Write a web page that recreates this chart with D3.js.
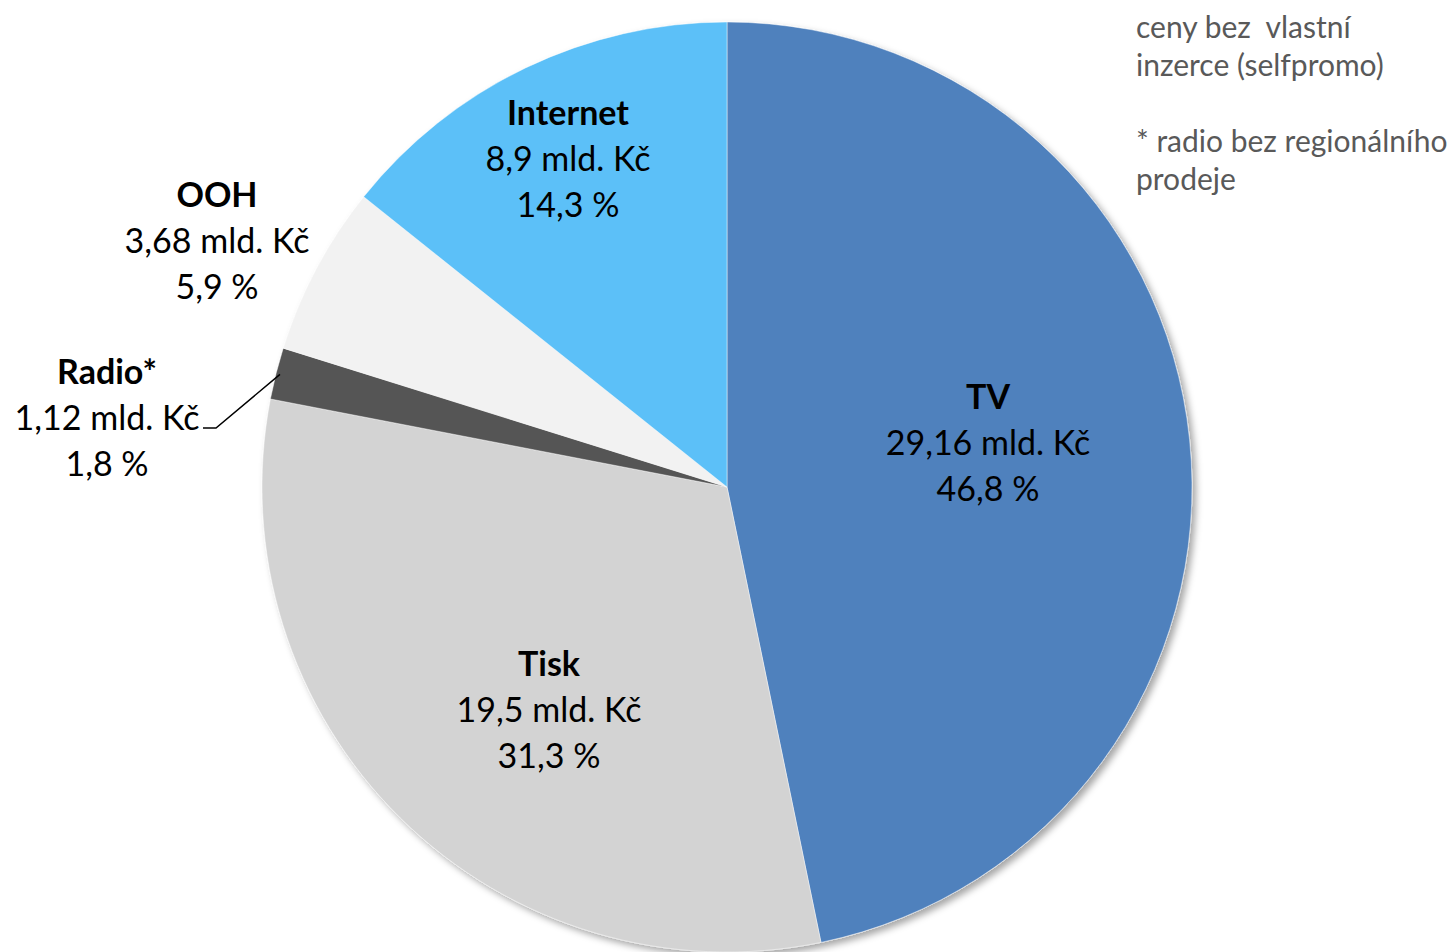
<!DOCTYPE html>
<html>
<head>
<meta charset="utf-8">
<script src="https://cdn.jsdelivr.net/npm/d3@7"></script>
<style>
  body { margin: 0; background: #fff; }
  svg { display: block; }
</style>
</head>
<body>
<script>
(function() {

	var categories = ['TV', 'Tisk', 'Radio*', 'OOH', 'Internet'];
	var values = [29.16, 19.5, 1.12, 3.68, 8.9];
	var valueLabels = ['29,16 mld. Kč', '19,5 mld. Kč', '1,12 mld. Kč', '3,68 mld. Kč', '8,9 mld. Kč'];
	var percentLabels = ['46,8 %', '31,3 %', '1,8 %', '5,9 %', '14,3 %'];
	var noteLines = ['ceny bez  vlastní', 'inzerce (selfpromo)', '', '* radio bez regionálního', 'prodeje'];

	var width = 1455;
	var height = 952;
	var cx = 727;
	var cy = 487;
	var radius = 465;
	var lineGap = 46;

	var colors = ['#4f81bd', '#d3d3d3', '#545454', '#f2f2f2', '#5bc0f8'];

	// label anchors (middle line), relative to pie centre
	var labelPos = {
		'TV': [261, -44],
		'Tisk': [-178, 223],
		'Radio*': [-620, -69],
		'OOH': [-510, -246],
		'Internet': [-159, -328]
	};

	var svg = d3.select('body')
		.append('svg')
			.attr('width', width)
			.attr('height', height)
			.style('font-family', 'Lato, "Open Sans", sans-serif');

	var defs = svg.append('defs');
	var shadow = defs.append('filter')
		.attr('id', 'shadow')
		.attr('x', '-10%')
		.attr('y', '-10%')
		.attr('width', '120%')
		.attr('height', '120%');
	shadow.append('feDropShadow')
		.attr('dx', 4)
		.attr('dy', 4)
		.attr('stdDeviation', 3.5)
		.attr('flood-color', '#000')
		.attr('flood-opacity', 0.35);

	var pie = d3.pie()
		.sort(null)
		.value(function(d) { return d; });

	var arcs = pie(values);

	var arc = d3.arc()
		.innerRadius(0)
		.outerRadius(radius);

	var chart = svg.append('g')
		.attr('transform', 'translate(' + cx + ',' + cy + ')');

	chart.append('g')
		.attr('filter', 'url(#shadow)')
		.selectAll('path')
		.data(arcs)
		.enter()
		.append('path')
			.attr('d', arc)
			.style('fill', function(d, i) { return colors[i]; })
			.style('stroke', 'rgba(255,255,255,0.45)')
			.style('stroke-width', 1);

	// leader line for the small radio slice
	var radioArc = arcs[2];
	var edge = d3.arc().innerRadius(radius - 4).outerRadius(radius - 4);
	var p = edge.centroid(radioArc);
	var rp = labelPos['Radio*'];
	chart.append('polyline')
		.attr('points', [
			[rp[0] + 96, rp[1] + 10],
			[rp[0] + 109, rp[1] + 10],
			p
		].map(function(q) { return q.join(','); }).join(' '))
		.style('fill', 'none')
		.style('stroke', '#000')
		.style('stroke-width', 1.5);

	var labels = chart.selectAll('g.label')
		.data(categories)
		.enter()
		.append('g')
			.attr('class', 'label')
			.attr('transform', function(d) {
				return 'translate(' + labelPos[d][0] + ',' + labelPos[d][1] + ')';
			});

	labels.each(function(d, i) {
		var g = d3.select(this);
		var lines = [d, valueLabels[i], percentLabels[i]];
		lines.forEach(function(t, j) {
			g.append('text')
				.attr('x', 0)
				.attr('y', (j - 1) * lineGap)
				.attr('dy', '0.35em')
				.attr('text-anchor', 'middle')
				.style('font-size', '34px')
				.style('font-weight', j === 0 ? 'bold' : 'normal')
				.style('fill', '#000')
				.text(t);
		});
	});

	var note = svg.append('g')
		.attr('transform', 'translate(1136,0)');
	note.selectAll('text')
		.data(noteLines)
		.enter()
		.append('text')
			.attr('x', 0)
			.attr('y', function(d, i) { return 27 + i * 38; })
			.attr('dy', '0.35em')
			.style('font-size', '30px')
			.style('fill', '#595959')
			.style('white-space', 'pre')
			.text(function(d) { return d; });

})();
</script>
</body>
</html>
